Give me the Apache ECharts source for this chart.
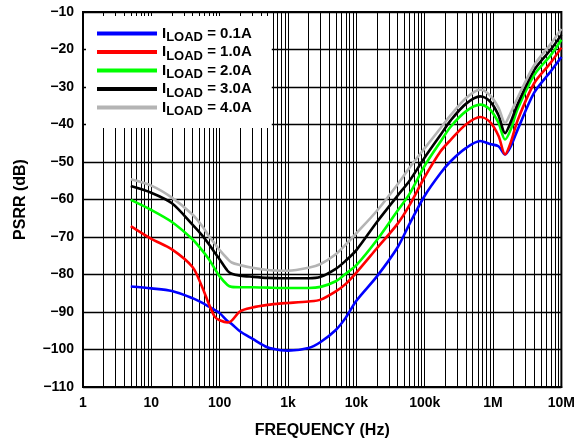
<!DOCTYPE html>
<html>
<head>
<meta charset="utf-8">
<script src="https://cdn.jsdelivr.net/npm/echarts@6/dist/echarts.min.js"></script>
<style>
html,body{margin:0;padding:0;background:#fff;}
#chart{width:578px;height:444px;}
</style>
</head>
<body>
<div id="chart"></div>
<script>
const freq = [5,10,20,40,55,70,85,100,130,150,200,300,500,800,1000,2000,3000,5000,7000,10000,20000,40000,60000,100000,170000,240000,400000,650000,900000,1200000,1500000,1800000,2300000,4000000,7000000,10000000];
const load01 = [-83.2,-83.7,-84.4,-86.3,-87.5,-88.6,-89.5,-90.3,-92.4,-93.2,-95.2,-97.1,-99.4,-100.2,-100.3,-99.6,-98.0,-94.8,-91.5,-87.0,-80.5,-72.8,-66.5,-59.0,-53.0,-49.8,-46.3,-44.4,-45.2,-45.8,-48.0,-46.0,-41.3,-31.5,-25.8,-22.0];
const load10 = [-67.1,-70.5,-73.3,-78.0,-83.2,-88.0,-91.3,-92.2,-92.8,-92.3,-89.8,-88.8,-88.1,-87.7,-87.6,-87.2,-86.7,-84.5,-82.5,-79.5,-73.0,-66.5,-61.5,-54.0,-47.2,-44.1,-40.0,-38.0,-39.3,-43.0,-48.0,-45.0,-38.8,-29.0,-23.5,-19.5];
const load20 = [-60.1,-62.8,-66.0,-70.6,-73.5,-76.0,-78.5,-80.5,-82.8,-83.3,-83.4,-83.4,-83.5,-83.6,-83.6,-83.6,-83.3,-81.8,-79.8,-77.5,-70.8,-63.0,-58.5,-51.0,-44.6,-40.6,-36.5,-34.7,-36.0,-39.5,-44.0,-41.5,-35.8,-26.8,-21.5,-17.4];
const load30 = [-56.4,-58.2,-61.0,-66.7,-69.5,-72.0,-74.2,-76.0,-79.0,-79.8,-80.3,-80.6,-80.9,-81.0,-81.0,-81.0,-80.6,-78.5,-76.3,-73.5,-66.0,-59.0,-55.0,-48.8,-42.8,-38.9,-34.5,-32.5,-33.8,-37.5,-42.3,-39.5,-34.5,-25.5,-20.0,-16.1];
const load40 = [-54.6,-56.3,-59.5,-64.0,-67.0,-69.8,-71.8,-73.5,-75.8,-76.8,-77.5,-78.2,-78.8,-79.0,-79.0,-78.2,-77.2,-74.6,-72.0,-69.0,-63.0,-56.0,-51.5,-46.3,-41.0,-37.5,-33.0,-30.7,-32.2,-35.5,-39.6,-37.0,-32.8,-24.2,-18.5,-14.5];
const loadLabels = ['0.1A','1.0A','2.0A','3.0A','4.0A'];
const xTickValues = [1,10,100,1000,10000,100000,1000000,10000000];
const xTickLabels = ['1','10','100','1k','10k','100k','1M','10M'];
const yMin = -110, yMax = -10, yStep = 10;

const seriesValues = [load01, load10, load20, load30, load40];
const colors = ['#0000ff','#ff0000','#00ff00','#000000','#b4b4b4'];
const names = loadLabels.map(l => 'ILOAD = ' + l);

// minor log grid positions (2..9 within each decade)
const minorLines = [];
for (let d = 1; d < 1e7; d *= 10) {
  for (let k = 2; k <= 9; k++) minorLines.push({xAxis: d * k});
}

const FONT = '"Liberation Sans", Arial, sans-serif';
const chart = echarts.init(document.getElementById('chart'), null, {renderer: 'canvas'});

const series = seriesValues.map((vals, i) => ({
  name: names[i],
  type: 'line',
  data: freq.map((f, j) => [f, vals[j]]),
  symbol: 'none',
  smooth: 0.3,
  lineStyle: {color: colors[i], width: 2.6},
  itemStyle: {color: colors[i]},
  z: 3
}));
series.unshift({
  name: 'grid',
  type: 'line',
  data: [],
  z: 1,
  silent: true,
  markLine: {
    z: 1,
    silent: true,
    symbol: ['none','none'],
    label: {show: false},
    lineStyle: {color: '#000', width: 1, type: 'solid'},
    emphasis: {disabled: true},
    animation: false,
    data: minorLines
  }
});

chart.setOption({
  animation: false,
  backgroundColor: '#fff',
  grid: {left: 83, right: 16, top: 12, bottom: 51, show: true, borderColor: '#000', borderWidth: 2, backgroundColor: 'transparent'},
  legend: {
    z: 10,
    data: names,
    orient: 'vertical',
    left: 86,
    top: 16,
    backgroundColor: '#fff',
    padding: [10, 20, 10, 11],
    itemWidth: 60,
    itemHeight: 4,
    itemGap: 0.5,
    icon: 'rect',
    selectedMode: false,
    formatter: function (name) {
      const idx = names.indexOf(name);
      return '{i|I}{s|LOAD}{t| = ' + loadLabels[idx] + '}';
    },
    textStyle: {
      rich: {
        i: {fontFamily: FONT, fontWeight: 'bold', fontSize: 15, color: '#000', verticalAlign: 'top', lineHeight: 15},
        s: {fontFamily: FONT, fontWeight: 'bold', fontSize: 13, color: '#000', verticalAlign: 'top', lineHeight: 13, padding: [5,0,0,0]},
        t: {fontFamily: FONT, fontWeight: 'bold', fontSize: 15, color: '#000', verticalAlign: 'top', lineHeight: 15}
      }
    }
  },
  xAxis: {
    type: 'log',
    logBase: 10,
    min: 1,
    max: 1e7,
    name: 'FREQUENCY (Hz)',
    nameLocation: 'middle',
    nameGap: 36,
    nameTextStyle: {fontFamily: FONT, fontWeight: 'bold', fontSize: 16, color: '#000'},
    axisLine: {show: true, lineStyle: {color: '#000', width: 2}},
    axisTick: {show: false},
    axisLabel: {
      fontFamily: FONT, fontWeight: 'bold', fontSize: 14, color: '#000', margin: 9,
      formatter: function (v) {
        const idx = xTickValues.findIndex(t => Math.abs(Math.log10(t) - Math.log10(v)) < 1e-6);
        return idx >= 0 ? xTickLabels[idx] : '';
      }
    },
    splitLine: {show: true, lineStyle: {color: '#000', width: 1}}
  },
  yAxis: {
    type: 'value',
    min: yMin,
    max: yMax,
    interval: yStep,
    name: 'PSRR (dB)',
    nameLocation: 'middle',
    nameGap: 54,
    nameRotate: 90,
    nameTextStyle: {fontFamily: FONT, fontWeight: 'bold', fontSize: 16, color: '#000'},
    axisLine: {show: true, lineStyle: {color: '#000', width: 2}},
    axisTick: {show: false},
    axisLabel: {
      fontFamily: FONT, fontWeight: 'bold', fontSize: 14, color: '#000', margin: 9,
      formatter: function (v) { return v < 0 ? '\u2212' + Math.abs(v) : String(v); }
    },
    splitLine: {show: true, lineStyle: {color: '#000', width: 1.4}}
  },
  series: series
});
</script>
</body>
</html>
